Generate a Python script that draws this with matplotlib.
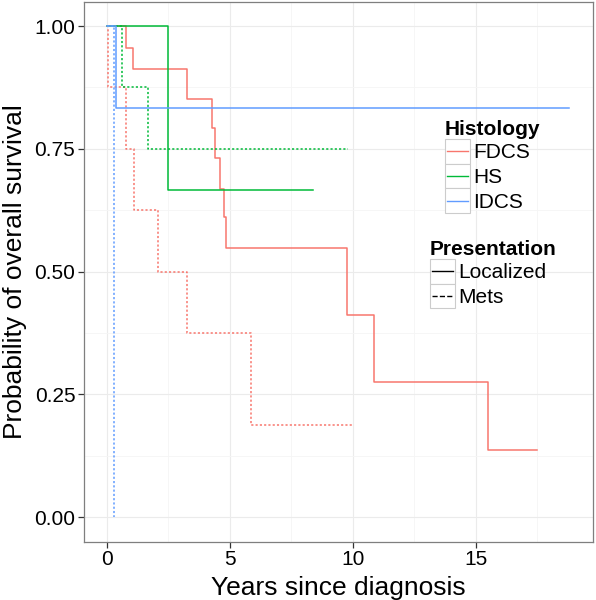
import matplotlib
matplotlib.use("Agg")
import matplotlib.pyplot as plt
from matplotlib.lines import Line2D
from matplotlib.patches import Rectangle
from matplotlib.legend_handler import HandlerBase

plt.rcParams['font.family'] = ['Liberation Sans', 'DejaVu Sans']

# Kaplan-Meier step curves (years, survival)
fdcs_loc_t = [0, 0.77, 1.06, 3.28, 4.26, 4.40, 4.60, 4.76, 4.84, 9.77, 10.85, 15.5, 17.5]
fdcs_loc_s = [1, 0.956, 0.913, 0.851, 0.792, 0.731, 0.669, 0.611, 0.549, 0.412, 0.275, 0.137, 0.137]
fdcs_met_t = [0, 0.05, 0.77, 1.10, 2.10, 3.25, 5.87, 10.0]
fdcs_met_s = [1, 0.875, 0.75, 0.625, 0.5, 0.375, 0.1875, 0.1875]
hs_loc_t = [0, 2.50, 8.4]
hs_loc_s = [1, 0.667, 0.667]
hs_met_t = [0, 0.62, 1.68, 9.8]
hs_met_s = [1, 0.875, 0.75, 0.75]
idcs_loc_t = [0, 0.38, 18.8]
idcs_loc_s = [1, 0.833, 0.833]
idcs_met_t = [0, 0.29]
idcs_met_s = [1, 0.0]

histologies = ["FDCS", "HS", "IDCS"]
presentations = ["Localized", "Mets"]
colors = {"FDCS": "#F8766D", "HS": "#00BA38", "IDCS": "#619CFF"}
styles = {"Localized": "-", "Mets": (0, (1.4, 1.4))}

curves = [
    ("FDCS", "Localized", fdcs_loc_t, fdcs_loc_s),
    ("FDCS", "Mets", fdcs_met_t, fdcs_met_s),
    ("HS", "Localized", hs_loc_t, hs_loc_s),
    ("HS", "Mets", hs_met_t, hs_met_s),
    ("IDCS", "Localized", idcs_loc_t, idcs_loc_s),
    ("IDCS", "Mets", idcs_met_t, idcs_met_s),
]

fig = plt.figure(figsize=(5.96, 6.0), dpi=100)
ax = fig.add_axes([0.1403, 0.097, 0.854, 0.9005])

for hist, pres, t, s in curves:
    ax.step(t, s, where='post', color=colors[hist], linestyle=styles[pres], lw=1.1)

ax.set_xlim(-0.94, 19.74)
ax.set_ylim(-0.05, 1.05)
ax.set_xticks([0, 5, 10, 15])
ax.set_xticks([2.5, 7.5, 12.5, 17.5], minor=True)
ax.set_yticks([0, 0.25, 0.5, 0.75, 1.0])
ax.set_yticks([0.125, 0.375, 0.625, 0.875], minor=True)
ax.set_yticklabels(["0.00", "0.25", "0.50", "0.75", "1.00"])
ax.grid(which='major', color='#ebebeb', lw=0.8)
ax.grid(which='minor', color='#f5f5f5', lw=0.6)
ax.set_axisbelow(True)
for sp in ax.spines.values():
    sp.set_color('#7f7f7f')
    sp.set_linewidth(0.9)
ax.tick_params(which='major', length=4, width=0.9, color='#333333', labelsize=15, pad=2)
ax.tick_params(which='minor', length=0)
ax.set_xlabel("Years since diagnosis", fontsize=19, labelpad=5)
ax.set_ylabel("Probability of overall survival", fontsize=19, labelpad=5)


class BoxedKey(HandlerBase):
    def create_artists(self, legend, orig_handle, xdescent, ydescent,
                       width, height, fontsize, trans):
        box = Rectangle((-xdescent, -ydescent), width, height, fc='white',
                        ec='#cccccc', lw=0.8, transform=trans)
        y = -ydescent + height / 2
        line = Line2D([-xdescent + 1.5, -xdescent + width - 1.5], [y, y],
                      color=orig_handle.get_color(), lw=1.0,
                      linestyle=orig_handle.get_linestyle(), transform=trans)
        return [box, line]


leg_kw = dict(frameon=False, fontsize=15, handlelength=1.2, handleheight=1.45,
              handletextpad=0.15, labelspacing=0.0, borderpad=0, borderaxespad=0,
              loc='upper left', alignment='left',
              title_fontproperties={'weight': 'bold', 'size': 15},
              handler_map={Line2D: BoxedKey()})

h1 = [Line2D([], [], color=colors[h], linestyle='-') for h in histologies]
leg1 = fig.legend(h1, histologies, title="Histology",
                  bbox_to_anchor=(445 / 596, 1 - 120 / 600), **leg_kw)
h2 = [Line2D([], [], color='black', linestyle=styles[p]) for p in presentations]
leg2 = fig.legend(h2, presentations, title="Presentation",
                  bbox_to_anchor=(430 / 596, 1 - 240 / 600), **leg_kw)

fig.savefig("out.png", dpi=100)
